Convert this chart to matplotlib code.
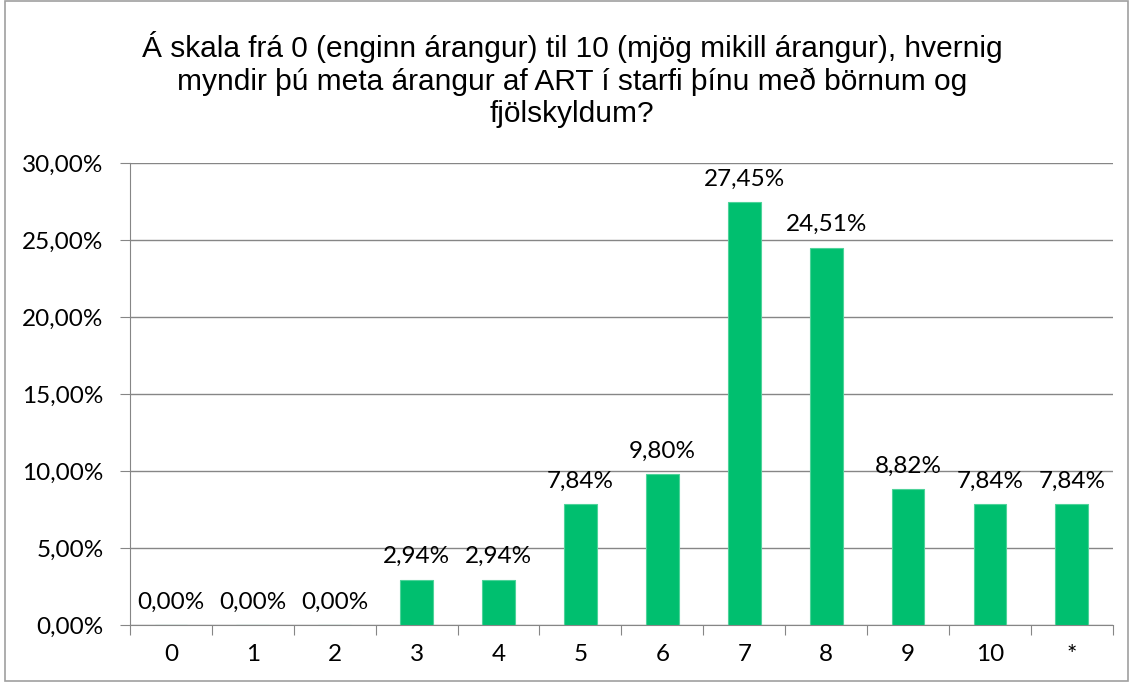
import matplotlib.pyplot as plt
from matplotlib.patches import Rectangle

categories = ["0", "1", "2", "3", "4", "5", "6", "7", "8", "9", "10", "*"]
values = [0.00, 0.00, 0.00, 2.94, 2.94, 7.84, 9.80, 27.45, 24.51, 8.82, 7.84, 7.84]
yticks = [0, 5, 10, 15, 20, 25, 30]

title = ("Á skala frá 0 (enginn árangur) til 10 (mjög mikill árangur), hvernig\n"
         "myndir þú meta árangur af ART í starfi þínu með börnum og\n"
         "fjölskyldum?")

fig = plt.figure(figsize=(11.33, 6.82), dpi=100)
ax = fig.add_axes([0.1147, 0.0836, 0.8675, 0.6774])

x = range(len(categories))
ax.bar(x, values, width=0.4, color="#00BF6F", edgecolor="#4ED39A", linewidth=0.8, zorder=3)

lab_font = ["Lato", "DejaVu Sans"]
fs = 17.5
for i, v in zip(x, values):
    ax.annotate(("%.2f%%" % v).replace(".", ","), (i, v), xytext=(0, 9),
                textcoords="offset points", ha="center", va="bottom",
                fontsize=fs, family=lab_font)

ax.set_xlim(-0.5, len(categories) - 0.5)
ax.set_ylim(0, 30)
ax.set_yticks(yticks)
ax.set_yticklabels([("%.2f%%" % t).replace(".", ",") for t in yticks], fontsize=fs, family=lab_font)
ax.yaxis.grid(True, color="#868686", linewidth=1, zorder=0)

ax.set_xticks([i + 0.5 for i in range(-1, len(categories))])
ax.set_xticklabels([])
ax.set_xticks(list(x), minor=True)
ax.set_xticklabels(categories, minor=True, fontsize=fs, family=lab_font)
ax.tick_params(axis="x", which="major", length=7, color="#868686", direction="out")
ax.tick_params(axis="x", which="minor", length=0, pad=14)
ax.tick_params(axis="y", length=7, color="#868686", pad=12)

for s in ["top", "right"]:
    ax.spines[s].set_visible(False)
ax.spines["left"].set_color("#868686")
ax.spines["bottom"].set_color("#868686")

fig.text(0.505, 0.955, title, ha="center", va="top", fontsize=21.5, linespacing=1.2,
         family=["Liberation Sans Narrow", "Liberation Sans"])

fig.patches.append(Rectangle((0.004, 0.002), 0.992, 0.996, transform=fig.transFigure,
                             fill=False, edgecolor="#A0A0A0", linewidth=1.2))

fig.savefig("out.png", dpi=100)
